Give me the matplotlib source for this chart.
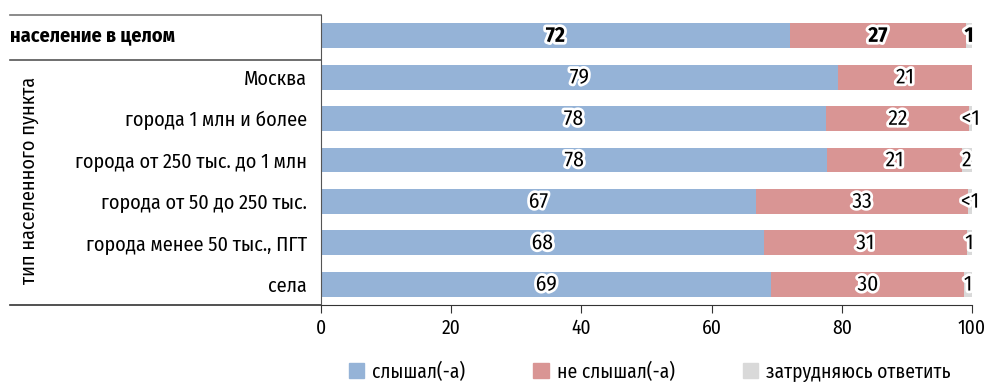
import matplotlib.pyplot as plt
import matplotlib.patheffects as pe
from matplotlib.patches import Patch

plt.rcParams['font.family'] = ['Fira Sans Condensed', 'DejaVu Sans']

categories = ["население в целом", "Москва", "города 1 млн и более",
              "города от 250 тыс. до 1 млн", "города от 50 до 250 тыс.",
              "города менее 50 тыс., ПГТ", "села"]
heard = [72.0, 79.4, 77.6, 77.8, 66.8, 68.0, 69.2]
not_heard = [27.1, 20.6, 22.0, 20.6, 32.6, 31.2, 29.6]
hard = [0.9, 0.0, 0.4, 1.6, 0.6, 0.8, 1.2]
heard_lbl = ["72", "79", "78", "78", "67", "68", "69"]
not_heard_lbl = ["27", "21", "22", "21", "33", "31", "30"]
hard_lbl = ["1", "", "<1", "2", "<1", "1", "1"]
legend_names = ["слышал(-а)", "не слышал(-а)", "затрудняюсь ответить"]
colors = ["#95b3d7", "#d99594", "#d9d9d9"]

fig = plt.figure(figsize=(9.92, 3.82), dpi=100)
ax = fig.add_axes([0.3236, 0.2016, 0.6562, 0.7591])

y = list(range(len(categories)))
left = [0.0] * len(y)
stroke = [pe.withStroke(linewidth=4, foreground="white")]
for vals, lbls, c in [(heard, heard_lbl, colors[0]),
                      (not_heard, not_heard_lbl, colors[1]),
                      (hard, hard_lbl, colors[2])]:
    ax.barh(y, vals, left=left, height=0.6, color=c)
    for i in y:
        if lbls[i]:
            ax.text(left[i] + vals[i] / 2, i, lbls[i], ha="center", va="center",
                    fontsize=15.5, color="black", path_effects=stroke,
                    fontweight="bold" if i == 0 else "normal", clip_on=False)
    left = [l + v for l, v in zip(left, vals)]

ax.set_xlim(0, 100)
ax.set_ylim(6.5, -0.5)
ax.set_xticks([0, 20, 40, 60, 80, 100])
ax.tick_params(axis="x", labelsize=14, length=6, color="#333333")
ax.set_yticks(y)
ax.set_yticklabels(categories, fontsize=14.5)
ax.tick_params(axis="y", length=0, pad=10)
ax.get_yticklabels()[0].set_visible(False)
ax.text(-0.478, 0, categories[0], transform=ax.get_yaxis_transform(),
        ha="left", va="center", fontsize=14.5, fontweight="bold")

for s in ["top", "right"]:
    ax.spines[s].set_visible(False)
ax.spines["left"].set_color("#555555")
ax.spines["bottom"].set_color("#333333")

tr = ax.get_yaxis_transform()
ax.plot([-0.478, 0], [-0.5, -0.5], transform=tr, color="#777777", lw=1.2, clip_on=False)
ax.plot([-0.478, 0], [0.58, 0.58], transform=tr, color="#555555", lw=1.2, clip_on=False)
ax.plot([-0.478, 0], [6.5, 6.5], transform=tr, color="#333333", lw=1.2, clip_on=False)

ax.text(-0.448, 3.5, "тип населенного пункта", transform=tr, rotation=90,
        ha="center", va="center", fontsize=14.5)

handles = [Patch(color=c) for c in colors]
fig.legend(handles, legend_names, loc="center", bbox_to_anchor=(0.655, 0.027),
           ncol=3, frameon=False, fontsize=14, handlelength=0.8, handleheight=0.8,
           handletextpad=0.4, columnspacing=3.5)

fig.savefig("out.png", dpi=100)
